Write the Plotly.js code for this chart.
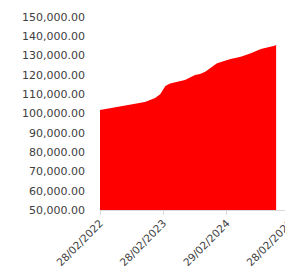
<!DOCTYPE html>
<html><head><meta charset="utf-8">
<script src="https://cdn.plot.ly/plotly-3.0.1.min.js"></script>
<style>html,body{margin:0;padding:0;overflow:hidden;background:#fff}#c{width:300px;height:270px}</style>
</head><body><div id="c"></div>
<script>
const dates = ["2022-02-28","2022-05-26","2022-07-20","2022-09-18","2022-11-14","2022-12-14","2023-01-12","2023-02-10","2023-03-12","2023-04-08","2023-07-03","2023-08-30","2023-09-28","2023-10-28","2023-12-06","2024-01-04","2024-03-22","2024-05-20","2024-07-17","2024-09-13","2024-11-30","2024-12-10"];
const values = [101800,103200,104000,104900,105950,107000,108000,110000,114200,115600,117300,120000,120450,121650,124200,126000,128200,129400,131200,133400,135100,135500];
const xTicks = ["2022-02-28","2023-02-28","2024-02-29","2025-02-28"];
const xTickText = ["28/02/2022","28/02/2023","29/02/2024","28/02/2025"];
const yTicks = [50000,60000,70000,80000,90000,100000,110000,120000,130000,140000,150000];

Plotly.newPlot('c', [{
  x: dates, y: values, type: 'scatter', mode: 'lines',
  fill: 'tozeroy', fillcolor: '#FF0000', line: {width: 0, color: '#FF0000'}
}], {
  width: 300, height: 270,
  margin: {l: 100, r: 10, t: 17, b: 60},
  paper_bgcolor: '#fff', plot_bgcolor: '#fff',
  showlegend: false,
  font: {family: 'DejaVu Sans', size: 11, color: '#404040'},
  xaxis: {
    type: 'date', range: ['2022-02-28', '2025-02-28'],
    tickvals: xTicks, ticktext: xTickText, tickangle: -45,
    tickfont: {size: 10.5},
    showgrid: false, zeroline: false,
    showline: true, linecolor: '#d9d9d9', linewidth: 1,
    ticks: 'outside', ticklen: 4, tickcolor: '#d9d9d9',
    ticklabelstandoff: -2
  },
  yaxis: {
    range: [50000, 150000], tickvals: yTicks, tickformat: ',.2f',
    showgrid: false, zeroline: false, showline: false, ticks: '',
    ticklabelstandoff: 14
  }
}, {staticPlot: true, displayModeBar: false});
</script></body></html>
